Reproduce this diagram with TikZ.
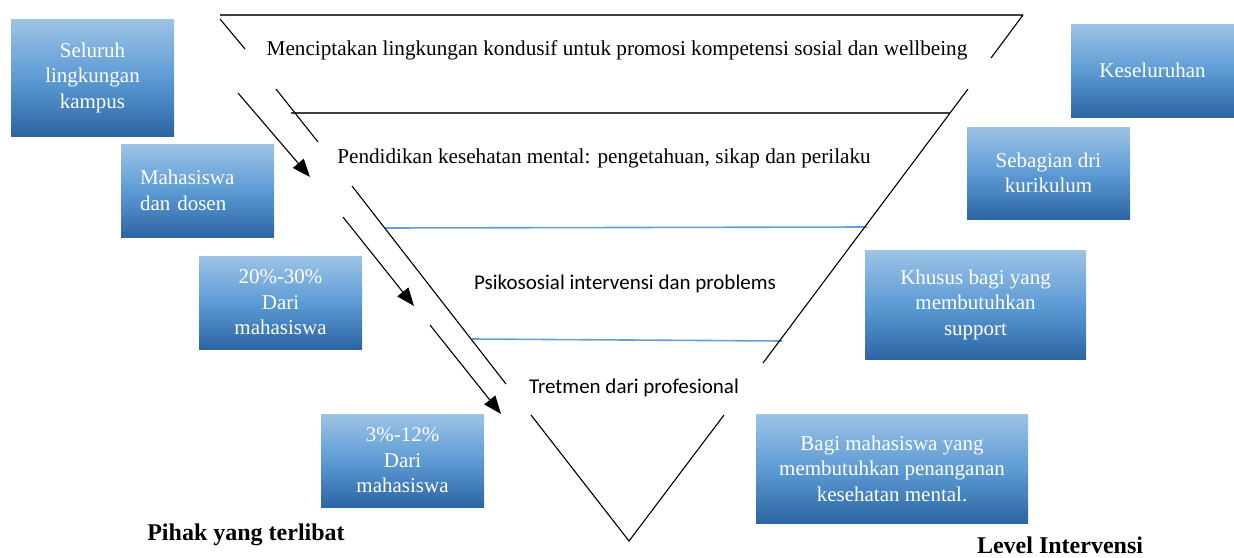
\documentclass[tikz,border=0pt]{standalone}
\usepackage{fontspec}
\setmainfont{Liberation Serif}
\newfontfamily\bodyfont{Carlito}
\usetikzlibrary{arrows.meta}
\definecolor{boxtop}{RGB}{157,195,230}
\definecolor{boxmid}{RGB}{93,155,213}
\definecolor{boxbot}{RGB}{44,101,162}
\definecolor{rulegray}{RGB}{64,64,64}
\definecolor{ruleblue}{RGB}{100,160,215}
\tikzset{
  levelbox/.style={rectangle, inner sep=0pt, align=center, text=white,
    font=\fontsize{21}{25.5}\selectfont,
    top color=boxtop, bottom color=boxbot, middle color=boxmid},
  leveltext/.style={inner sep=0pt, font=\fontsize{21.2}{25.5}\selectfont},
  sidetitle/.style={inner sep=0pt, font=\fontsize{24}{28}\selectfont\bfseries},
  edge/.style={line width=1.1pt},
  flow/.style={line width=1.1pt, -{Triangle[length=18pt,width=14pt]}}
}
\begin{document}
\begin{tikzpicture}[x=1pt,y=-1pt]
\useasboundingbox (0,0) rectangle (1234,557);
% funnel
\draw [rulegray,line width=1.8pt] (220,15) -- (1023,15);
\draw [rulegray,line width=1.8pt] (291,113) -- (950,113);
\draw [ruleblue,line width=1.6pt] (385,228) -- (867,227);
\draw [ruleblue,line width=1.6pt] (472,339) -- (782,341);
\draw [edge] (220,19) -- (245,49);
\draw [edge] (276,89) -- (318,142);
\draw [edge] (352,186) -- (506,384);
\draw [edge] (531,415) -- (629,541) -- (724,415);
\draw [edge] (1023,15) -- (991,58);
\draw [edge] (968,89) -- (763,363);
\node [leveltext] (kondusif) at (617,50) {Menciptakan lingkungan kondusif untuk promosi kompetensi sosial dan wellbeing};
\node [leveltext] (pendidikan) at (604,158) {Pendidikan kesehatan mental: pengetahuan, sikap dan perilaku};
\node [leveltext,font=\fontsize{21}{25.5}\bodyfont] (psikososial) at (625,284) {Psikososial intervensi dan problems};
\node [leveltext,font=\fontsize{21}{25.5}\bodyfont] (tretmen) at (634,388) {Tretmen dari profesional};
% pihak yang terlibat
\node [levelbox,minimum width=163pt,minimum height=117pt] (kampus) at (92.5,77.5) {Seluruh\\lingkungan\\kampus};
\node [levelbox,align=left,text width=115pt,inner xsep=19pt,minimum height=93pt] (dosen) at (197.5,190.5) {Mahasiswa\\dan dosen};
\node [levelbox,minimum width=163pt,minimum height=93pt] (mhs30) at (280.5,302.5) {20\%-30\%\\Dari\\mahasiswa};
\node [levelbox,minimum width=163pt,minimum height=93pt] (mhs12) at (402.5,460.5) {3\%-12\%\\Dari\\mahasiswa};
\node [sidetitle] (pihak) at (246,535) {Pihak yang terlibat};
% level intervensi
\node [levelbox,minimum width=163pt,minimum height=93pt] (seluruh) at (1152.5,70.5) {Keseluruhan};
\node [levelbox,minimum width=163pt,minimum height=92pt] (kurikulum) at (1048.5,173) {Sebagian dri\\kurikulum};
\node [levelbox,minimum width=221pt,minimum height=109pt] (support) at (975.5,304.5) {Khusus bagi yang\\membutuhkan\\support};
\node [levelbox,minimum width=272pt,minimum height=109pt] (penanganan) at (892,468.5) {Bagi mahasiswa yang\\membutuhkan penanganan\\kesehatan mental.};
\node [sidetitle] (level) at (1060,545) {Level Intervensi};
% arrows
\coordinate (a1) at (238,93);
\coordinate (b1) at (310,177);
\coordinate (a2) at (343,217);
\coordinate (b2) at (414,306);
\coordinate (a3) at (430,325);
\coordinate (b3) at (501,414);
\draw [flow] (a1) -- (b1);
\draw [flow] (a2) -- (b2);
\draw [flow] (a3) -- (b3);
\end{tikzpicture}
\end{document}
